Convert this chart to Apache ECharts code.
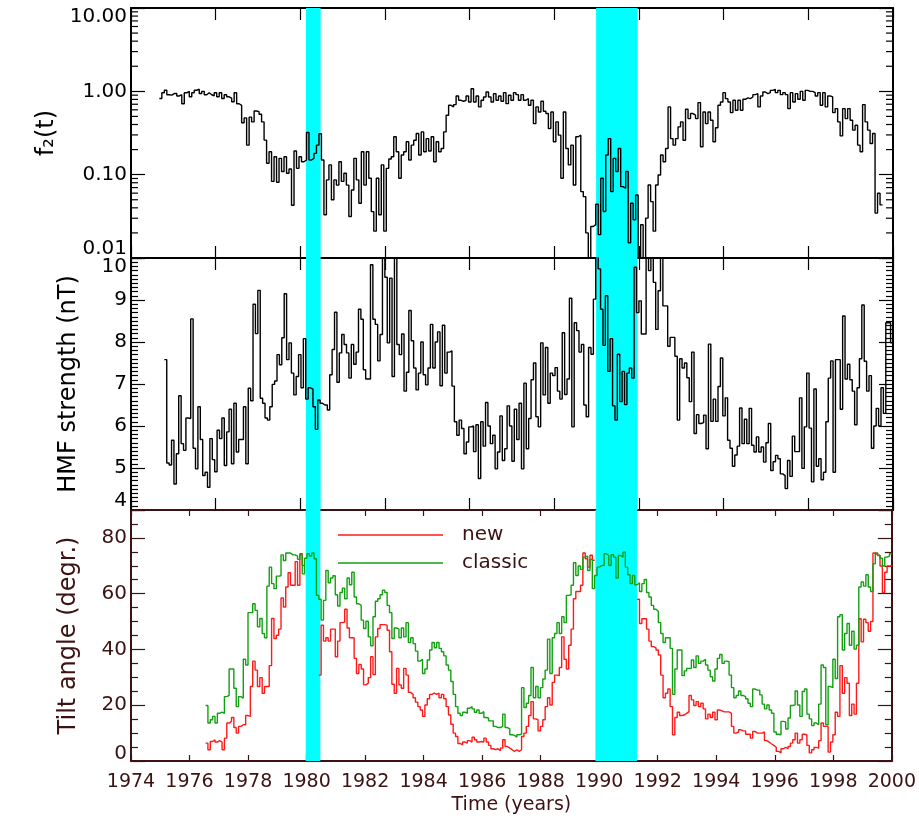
<!DOCTYPE html>
<html>
<head>
<meta charset="utf-8">
<script src="https://cdn.jsdelivr.net/npm/echarts@6/dist/echarts.min.js"></script>
<style>
  html, body { margin: 0; padding: 0; background: #fff; }
  #chart { width: 919px; height: 823px; }
</style>
</head>
<body>
<div id="chart"></div>
<script>
// shaded intervals (years)
const bands = [[1979.97, 1980.47], [1989.87, 1991.29]];

// f2(t), one value per rotation step
const f2Start = 1974.967, f2Step = 0.08509;
const f2Values = [
  0.82, 0.96, 1.03, 0.91, 0.90, 0.94, 0.94, 0.88, 0.91, 0.71,
  0.96, 1.0, 0.86, 0.96, 1.03, 1.06, 0.94, 1.0, 0.91, 0.96, 0.91, 0.88,
  0.96, 0.86, 0.96, 0.82, 0.91, 0.86, 0.83, 0.75, 0.96, 0.71, 0.68,
  0.42, 0.48, 0.226, 0.49, 0.43, 0.58, 0.57, 0.53, 0.43, 0.26, 0.137, 0.188,
  0.083, 0.164, 0.081, 0.157, 0.109, 0.164, 0.104, 0.117, 0.043, 0.192, 0.119, 0.164,
  0.143, 0.15, 0.32, 0.15, 0.157, 0.18, 0.226, 0.31, 0.15, 0.033, 0.0865, 0.131,
  0.050, 0.0865, 0.075, 0.143, 0.083, 0.104, 0.075, 0.0315, 0.0655, 0.157, 0.0865, 0.0454,
  0.188, 0.075, 0.188, 0.0906, 0.036, 0.021, 0.0906, 0.033, 0.131, 0.021, 0.119, 0.154, 0.164, 0.285,
  0.188, 0.0906, 0.172, 0.188, 0.248, 0.150, 0.226, 0.259, 0.312, 0.172,
  0.326, 0.188, 0.271, 0.192, 0.285, 0.143, 0.248, 0.188, 0.206, 0.326,
  0.517, 0.680, 0.650, 0.693, 0.880, 0.781, 0.760, 0.781, 0.880, 0.746,
  1.076, 0.746, 0.880, 0.650, 0.781, 0.856, 0.982, 0.856, 0.746, 0.938,
  0.781, 0.880, 0.760, 0.964, 0.712, 0.896, 0.781, 0.964, 0.912, 0.781,
  0.912, 0.781, 0.817, 0.680, 0.781, 0.410, 0.650, 0.566, 0.760, 0.577,
  0.541, 0.358, 0.566, 0.248, 0.430, 0.298, 0.0906, 0.566, 0.206, 0.131,
  0.226, 0.0752, 0.285, 0.298, 0.0626, 0.0545, 0.0200, 0.0095, 0.0239, 0.0251,
  0.0442, 0.0191, 0.0906, 0.0362, 0.172, 0.271, 0.0626, 0.157, 0.109, 0.206,
  0.0718, 0.0686, 0.109, 0.0152, 0.0454, 0.0288, 0.0571, 0.0095, 0.0251, 0.0095,
  0.0301, 0.0752, 0.0475, 0.0210, 0.0752, 0.099, 0.172, 0.143, 0.206, 0.650,
  0.271, 0.226, 0.271, 0.375, 0.430, 0.259, 0.609, 0.471, 0.541, 0.517,
  0.471, 0.732, 0.216, 0.566, 0.410, 0.566, 0.450, 0.248, 0.365, 0.680,
  0.746, 0.964, 0.817, 0.746, 0.556, 0.781, 0.593, 0.781, 0.593, 0.802,
  0.833, 0.817, 0.856, 0.912, 0.938, 0.650, 0.880, 0.982, 0.938, 0.964,
  1.028, 1.056, 0.964, 1.028, 0.912, 0.964, 0.912, 0.621, 0.964, 0.746,
  0.938, 0.802, 1.0, 0.781, 1.028, 1.0, 1.0, 0.964, 0.880, 0.964,
  0.680, 0.964, 0.650, 0.880, 0.856, 0.556, 0.621, 0.430, 0.292, 0.621,
  0.471, 0.621, 0.450, 0.342, 0.392, 0.226, 0.188, 0.693, 0.430, 0.342,
  0.237, 0.312, 0.0346, 0.0598, 0.0434
];

// HMF strength (nT)
const hmfStart = 1975.138, hmfStep = 0.08178;
const hmfValues = [
  7.58, 5.12, 5.07, 5.66, 4.62, 5.34, 6.72, 5.58, 5.42, 6.19,
  6.18, 8.55, 5.47, 4.98, 6.46, 5.68, 4.82, 4.90, 4.54, 5.70,
  5.20, 4.91, 5.90, 5.70, 6.19, 5.06, 5.86, 6.40, 5.10, 6.54,
  5.38, 5.68, 5.68, 6.46, 5.10, 6.90, 6.60, 8.90, 8.20, 9.23,
  6.66, 6.54, 6.19, 6.14, 6.46, 6.99, 7.07, 7.70, 7.46, 8.10,
  9.15, 7.58, 7.98, 7.26, 6.74, 7.18, 7.70, 6.91, 8.08, 6.64,
  6.91, 6.88, 6.46, 5.92, 6.62, 6.54, 6.50, 6.50, 6.38, 7.22,
  7.82, 8.71, 7.04, 7.74, 8.18, 7.94, 7.74, 7.14, 7.94, 7.47,
  7.76, 8.78, 8.54, 7.34, 7.12, 7.12, 9.84, 8.54, 8.42, 7.55,
  8.18, 10.3, 9.54,
  7.98, 9.52, 7.18, 10.3, 7.94, 7.70, 8.19, 6.83, 7.28, 8.75,
  8.03, 7.38, 6.86, 7.26, 8.00, 7.22, 6.98, 7.38, 8.42, 7.38,
  8.00, 8.24, 6.96, 8.40, 7.26, 7.76, 7.79, 6.95, 6.10, 5.78,
  6.14, 5.94, 5.34, 5.62, 5.98, 6.00, 5.39, 6.03, 4.75, 6.10,
  5.52, 6.56, 6.00, 5.58, 5.78, 4.98, 5.38, 6.24, 5.18, 5.46,
  6.48, 6.00, 5.16, 6.40, 5.68, 6.54, 4.98, 7.02, 5.46, 6.18,
  7.10, 7.50, 6.22, 5.98, 7.98, 6.74, 7.87, 6.54, 7.26, 7.20,
  7.39, 6.83, 6.64, 8.22, 6.75, 7.12, 9.04, 5.98, 8.46, 8.27,
  7.76, 7.94, 6.50, 6.22, 7.87, 7.71, 9.02, 10.3, 9.74, 8.78,
  7.92, 9.10, 7.30, 8.08, 6.48, 6.14, 7.71, 6.58, 7.30, 6.51,
  7.26, 7.38, 7.14, 9.78, 8.70, 8.98, 8.19, 8.19,
  10.3, 9.70, 10.3, 9.42, 8.30, 9.22, 10.3, 8.86, 8.86, 7.90,
  8.11, 8.11, 7.66, 6.14, 7.60, 7.38, 7.50, 7.15, 6.58, 7.76,
  5.82, 6.27, 6.06, 6.08, 6.26, 5.46, 7.95, 6.11, 6.64, 6.11,
  6.94, 7.62, 6.24, 6.67, 5.66, 5.47, 5.04, 5.31, 5.52, 6.43,
  5.58, 6.16, 5.58, 6.42, 5.54, 5.38, 5.74, 5.38, 5.50, 5.14,
  5.60, 6.06, 4.94, 5.15, 5.30, 5.22, 4.86, 4.82, 4.51, 5.18,
  4.80, 5.76, 5.39, 5.39, 6.67, 4.99, 5.98, 7.26, 5.95, 4.67,
  6.88, 5.04, 5.22, 4.72, 4.90, 6.10, 7.14, 7.55, 4.90, 7.58,
  7.58, 6.40, 8.62, 7.12, 7.47, 7.10, 6.83, 6.03, 6.91, 7.60,
  8.88, 7.54, 6.83, 7.20, 5.47, 6.00, 6.42, 6.00, 6.91, 6.30,
  8.46, 8.46, 7.98
];

// tilt angle (degrees), "new" and "classic" models
const tiltStart = 1976.548, tiltStep = 0.08059;
const tiltNew = [
  6.4, 4.05, 7.0, 7.6, 6.8, 7.3, 6.8, 4.05, 8.2, 13.6,
  14.2, 15.6, 12.0, 10.0, 12.4, 13.0, 13.0, 16.3, 16.0, 26.7,
  35.8, 32.6, 26.7, 29.9, 24.3, 26.7, 26.7, 34.2, 51.1, 43.9,
  45.1, 47.3, 58.5, 55.2, 62.4, 67.5, 63.0, 63.0, 71.5, 63.0,
  74.3, 70.1, null, null, null, null, null, null, 30.8, 48.7,
  43.0, 44.2, 43.0, 47.3, 47.3, 37.4, 43.0, 49.6, 49.8, 54.4,
  47.7, 44.2, 44.2, 36.8, 31.4, 34.6, 33.0, 27.3, 27.9, 29.9,
  37.4, 31.0, 44.5, 47.5, 48.9, 48.9, 48.7, 46.9, 39.2,
  27.5, 24.3, 33.2, 27.3, 26.1, 33.2, 30.8, 24.6, 23.9, 22.7,
  21.1, 19.5, 18.3, 16.0, 20.1, 22.3, 23.9, 24.3, 23.9, 24.3,
  22.7, 23.9, 22.3, 19.5, 16.5, 13.2, 10.0, 8.8, 6.3, 5.8,
  6.8, 6.4, 7.3, 6.8, 8.5, 7.6, 6.8, 7.0, 6.8, 8.2,
  6.8, 5.6, 4.4, 4.05, 4.4, 3.7, 4.6, 7.6, 5.2, 4.6,
  4.05, 3.45, 4.05, 3.45, 4.05, 8.8, 10.0, 12.4, 16.3, 21.3,
  15.1, 14.8, 10.8, 12.4, 14.8, 19.5, 22.7, 20.1, 28.2, 30.8,
  30.6, 33.5, 44.5, 36.5, 33.0, 41.5, 47.3, 58.2, 60.8, 60.8,
  63.0, 74.6, 72.5, 69.5, 73.8, 72.0,
  null, null, null, null, null, null, null, null, null, null,
  null, null, null, null, null, null, null, null,
  58.0, 49.3, 51.0,
  51.0, 47.3, 43.0, 41.0, 40.6, 39.8, 38.0, 30.8, 22.7, 24.3,
  25.8, 19.5, 9.4, 15.6, 17.5, 16.3, 16.5, 17.1, 17.7, 23.5,
  21.9, 19.9, 21.3, 19.5, 20.7, 18.7, 15.1, 16.8, 15.6, 17.5,
  14.8, 18.3, 18.0, 17.6, 17.6, 17.6, 17.1, 12.4, 10.0, 10.4,
  11.2, 10.8, 10.8, 9.6, 9.6, 8.2, 10.6, 10.0, 10.0, 10.0,
  10.4, 7.3, 6.8, 6.1, 5.6, 4.9, 3.45, 2.9, 4.4, 4.9,
  4.4, 5.2, 6.4, 7.6, 10.0, 6.4, 7.6, 9.6, 9.4, 5.6,
  2.9, 4.05, 4.9, 4.6, 7.3, 13.6, 12.4, 12.4, 3.2, 6.8,
  9.4, 17.5, 16.0, 34.2, 24.3, 29.9, 27.9, 16.3, 20.4, 16.8,
  27.9, 51.0, 42.7, 50.8, 49.6, 46.5, 50.0, 74.6, 73.9, 73.7,
  69.9, 60.4, 67.7, 69.9, 69.9
];
const tiltClassic = [
  19.9, 13.6, 14.8, 16.0, 13.6, 17.1, 17.5, 17.1, 23.1, 23.5,
  33.0, 33.0, 26.1, 19.5, 23.1, 22.5, 36.5, 34.4, 53.2, 53.2,
  56.4, 54.0, 48.1, 51.1, 45.7, 44.2, 62.7, 69.5, 63.6, 61.8,
  66.3, 66.4, 73.9, 71.9, 74.6, 74.6, 73.9, 73.9, 73.5, 72.3,
  73.9, 67.1, 72.7, 74.3, 73.5, 74.6, 72.5, 59.4, 58.0, 50.5,
  57.6, 68.3, 63.9, 65.6, 66.4, 59.6, 55.6, 60.4, 62.0, 58.2,
  65.6, 63.2, 67.7, 58.8, 56.4, 55.8, 50.5, 47.5, 50.1, 44.5,
  41.3, 51.7, 57.3, 58.2, 59.6, 61.2, 60.4, 55.8, 53.2,
  43.9, 47.7, 47.3, 44.2, 47.7, 44.5, 49.6, 42.5, 44.2, 42.1,
  39.4, 35.8, 36.5, 31.4, 33.0, 36.2, 39.8, 42.5, 40.6, 42.5,
  40.4, 39.2, 37.7, 34.4, 32.6, 28.5, 23.9, 19.5, 17.1, 16.3,
  17.5, 17.1, 18.9, 19.5, 18.7, 17.5, 18.3, 17.1, 17.7, 15.6,
  15.4, 14.4, 14.4, 12.4, 12.0, 12.0, 12.4, 16.8, 12.0, 11.5,
  9.4, 9.2, 8.5, 9.4, 9.6, 26.3, 19.2, 20.7, 23.5, 33.5,
  22.7, 26.7, 22.7, 26.3, 29.4, 32.6, 43.7, 31.4, 44.2, 45.7,
  49.6, 45.7, 51.7, 49.6, 59.4, 59.6, 63.0, 71.1, 66.5, 69.9,
  68.7, 73.1, 73.5, 68.3, 72.3, 61.8, 66.5, 69.5, 70.1, 70.1,
  74.3, 73.7, 70.1, 74.0, 73.1, 65.6, 73.7, 73.1, 74.9, 69.5,
  66.8, 63.6, 66.5, 63.2, 63.9, 60.8, 63.6,
  65.1, 60.4, 58.8, 55.8, 54.4, 53.7, 49.6, 45.7, 42.5, 44.2,
  44.2, 40.4, 23.9, 33.0, 39.8, 39.8, 30.6, 32.3, 33.2, 33.2,
  36.2, 33.5, 37.7, 35.0, 35.8, 36.5, 34.4, 32.6, 30.2, 28.7,
  33.0, 36.8, 38.2, 35.0, 35.8, 35.6, 30.8, 26.3, 22.7, 23.5,
  25.1, 23.5, 23.1, 22.3, 20.7, 19.5, 25.8, 25.4, 25.4, 23.7,
  20.4, 18.7, 20.1, 18.3, 17.1, 10.4, 9.6, 9.4, 14.2, 14.0,
  11.5, 15.4, 19.9, 20.1, 25.1, 20.1, 16.0, 24.9, 25.8, 16.8,
  15.1, 12.7, 13.6, 13.0, 20.4, 34.4, 33.5, 13.0, 26.7, 26.3,
  36.5, 29.6, 51.7, 52.5, 39.8, 45.7, 49.3, 41.5, 46.5, 40.1,
  41.5, 62.4, 64.2, 62.7, 66.8, 62.4, 60.8, 70.7, 74.6, 73.7,
  72.7, 69.9, 73.1, 73.5, 74.3
];

// minor ticks of the logarithmic f2 axis
const logMinor = [0.02, 0.03, 0.04, 0.05, 0.06, 0.07, 0.08, 0.09,
  0.2, 0.3, 0.4, 0.5, 0.6, 0.7, 0.8, 0.9, 2, 3, 4, 5, 6, 7, 8, 9];

const INK = '#000';
const MAROON = '#3d1212';
const FONT = 'DejaVu Sans';

// each value holds until the next step starts
const toSteps = (start, step, vals) => {
  const pts = vals.map((v, i) => [+(start + i * step).toFixed(4), v]);
  pts.push([+(start + vals.length * step).toFixed(4), vals[vals.length - 1]]);
  return pts;
};

const bandArea = {
  silent: true,
  itemStyle: { color: '#00ffff', opacity: 1 },
  data: bands.map(b => [{ xAxis: b[0] }, { xAxis: b[1] }])
};

const shifted = (color) => ({
  hi: { fontFamily: FONT, fontSize: 20, color, padding: [17, 0, 0, 0] },
  lo: { fontFamily: FONT, fontSize: 20, color, padding: [0, 0, 18, 0] }
});

// hidden data axis (years)
const yearAxis = (grid) => ({
  type: 'value', gridIndex: grid, min: 1974, max: 2000, show: false
});

// tick-only frame axes for the two upper panels
const frameX = (grid, pos) => ({
  type: 'value', gridIndex: grid, position: pos, min: 0, max: 26, interval: 2.89, inverse: true,
  axisLine: { show: true, onZero: false, lineStyle: { color: INK, width: 2 } },
  axisTick: { show: true, inside: true, length: 12, lineStyle: { color: INK, width: 1.2 } },
  axisLabel: { show: false },
  splitLine: { show: false }
});

const frameY = (grid, pos, extra, color) => Object.assign({
  gridIndex: grid, position: pos,
  axisLine: { show: true, onZero: false, lineStyle: { color, width: 2 } },
  axisTick: { show: true, inside: true, length: 14, lineStyle: { color, width: 1.2 } },
  minorTick: { show: false },
  axisLabel: { show: false },
  splitLine: { show: false },
  minorSplitLine: { show: false }
}, extra);

const chart = echarts.init(document.getElementById('chart'));

const option = {
  animation: false,
  backgroundColor: '#fff',
  textStyle: { fontFamily: FONT },
  grid: [
    { left: 131, right: 26, top: 8, height: 250 },
    { left: 131, right: 26, top: 258, height: 252 },
    { left: 131, right: 26, top: 510, height: 251 }
  ],
  legend: {
    data: ['new', 'classic'],
    orient: 'vertical',
    left: 333,
    top: 520,
    icon: 'rect',
    itemWidth: 105,
    itemHeight: 1.5,
    itemGap: 8,
    selectedMode: false,
    textStyle: { fontFamily: FONT, fontSize: 20, color: MAROON, padding: [0, 0, 0, 14] }
  },
  xAxis: [
    yearAxis(0), frameX(0, 'bottom'), frameX(0, 'top'),
    yearAxis(1), frameX(1, 'bottom'), frameX(1, 'top'),
    {
      type: 'value', gridIndex: 2, position: 'bottom', min: 1974, max: 2000, interval: 2,
      name: 'Time (years)', nameLocation: 'middle', nameGap: 35,
      nameTextStyle: { fontFamily: FONT, fontSize: 19, color: MAROON },
      axisLine: { show: true, onZero: false, lineStyle: { color: MAROON, width: 2 } },
      axisTick: { show: true, inside: true, length: 6, lineStyle: { color: MAROON, width: 1.2 } },
      axisLabel: { fontFamily: FONT, fontSize: 19, color: MAROON, margin: 12, formatter: v => String(v) },
      splitLine: { show: false }
    },
    {
      type: 'value', gridIndex: 2, position: 'top', min: 1974, max: 2000, interval: 2,
      axisLine: { show: true, onZero: false, lineStyle: { color: MAROON, width: 2 } },
      axisTick: { show: true, inside: true, length: 6, lineStyle: { color: MAROON, width: 1.2 } },
      axisLabel: { show: false },
      splitLine: { show: false }
    }
  ],
  yAxis: [
    frameY(0, 'left', {
      type: 'log', logBase: 10, min: 0.01, max: 10,
      name: 'f\u2082(t)', nameLocation: 'middle', nameRotate: 90, nameGap: 58,
      nameTextStyle: { fontFamily: FONT, fontSize: 24, color: INK },
      axisLabel: {
        show: true, margin: 4, fontFamily: FONT, fontSize: 20, color: INK,
        formatter: v => {
          const s = Number(v).toFixed(2);
          if (v >= 9.99) return '{hi|' + s + '}';
          if (v <= 0.0101) return '{lo|' + s + '}';
          return s;
        },
        rich: shifted(INK)
      }
    }, INK),
    frameY(0, 'right', { type: 'log', logBase: 10, min: 0.01, max: 10 }, INK),
    frameY(1, 'left', {
      type: 'value', min: 4, max: 10, interval: 1,
      name: 'HMF strength (nT)', nameLocation: 'middle', nameRotate: 90, nameGap: 50,
      nameTextStyle: { fontFamily: FONT, fontSize: 24, color: INK },
      minorTick: { show: true, splitNumber: 10, length: 7, lineStyle: { color: INK, width: 1.2 } },
      axisLabel: {
        show: true, margin: 4, fontFamily: FONT, fontSize: 20, color: INK,
        formatter: v => v === 10 ? '{hi|10}' : v === 4 ? '{lo|4}' : String(v),
        rich: shifted(INK)
      }
    }, INK),
    frameY(1, 'right', {
      type: 'value', min: 4, max: 10, interval: 1,
      minorTick: { show: true, splitNumber: 10, length: 7, lineStyle: { color: INK, width: 1.2 } }
    }, INK),
    frameY(2, 'left', {
      type: 'value', min: 0, max: 90, interval: 20,
      name: 'Tilt angle (degr.)', nameLocation: 'middle', nameRotate: 90, nameGap: 50,
      nameTextStyle: { fontFamily: FONT, fontSize: 24, color: MAROON },
      minorTick: { show: true, splitNumber: 4, length: 7, lineStyle: { color: MAROON, width: 1.2 } },
      axisLabel: {
        show: true, margin: 4, fontFamily: FONT, fontSize: 20, color: MAROON,
        formatter: v => v === 0 ? '{lo|0}' : v > 85 ? '' : String(v),
        rich: {
          lo: { fontFamily: FONT, fontSize: 20, color: MAROON, padding: [0, 0, 14, 0] }
        }
      }
    }, MAROON),
    frameY(2, 'right', {
      type: 'value', min: 0, max: 90, interval: 20,
      minorTick: { show: true, splitNumber: 4, length: 7, lineStyle: { color: MAROON, width: 1.2 } }
    }, MAROON)
  ],
  series: [
    {
      name: 'f2', type: 'line', xAxisIndex: 0, yAxisIndex: 0,
      step: 'end', showSymbol: false, silent: true, z: 3,
      lineStyle: { color: INK, width: 1.4 },
      data: toSteps(f2Start, f2Step, f2Values),
      markArea: bandArea
    },
    {
      name: 'logMinor', type: 'custom', xAxisIndex: 0, yAxisIndex: 0,
      silent: true, clip: false, z: 4,
      data: logMinor.map(v => [1974, v]),
      renderItem: (params, api) => {
        const p0 = api.coord([1974, api.value(1)]);
        const p1 = api.coord([2000, api.value(1)]);
        const st = { stroke: INK, lineWidth: 1.2 };
        return {
          type: 'group',
          children: [
            { type: 'line', shape: { x1: p0[0], y1: p0[1], x2: p0[0] + 7, y2: p0[1] }, style: st },
            { type: 'line', shape: { x1: p1[0] - 7, y1: p1[1], x2: p1[0], y2: p1[1] }, style: st }
          ]
        };
      }
    },
    {
      name: 'HMF', type: 'line', xAxisIndex: 3, yAxisIndex: 2,
      step: 'end', showSymbol: false, silent: true, z: 3,
      lineStyle: { color: INK, width: 1.4 },
      data: toSteps(hmfStart, hmfStep, hmfValues),
      markArea: bandArea
    },
    {
      name: 'new', type: 'line', xAxisIndex: 6, yAxisIndex: 4,
      step: 'end', showSymbol: false, silent: true, z: 3,
      itemStyle: { color: '#ff1a1a' },
      lineStyle: { color: '#ff1a1a', width: 1.4 },
      data: toSteps(tiltStart, tiltStep, tiltNew),
      markArea: bandArea
    },
    {
      name: 'classic', type: 'line', xAxisIndex: 6, yAxisIndex: 4,
      step: 'end', showSymbol: false, silent: true, z: 3,
      itemStyle: { color: '#12a012' },
      lineStyle: { color: '#12a012', width: 1.4 },
      data: toSteps(tiltStart, tiltStep, tiltClassic)
    }
  ]
};

chart.setOption(option);
</script>
</body>
</html>
